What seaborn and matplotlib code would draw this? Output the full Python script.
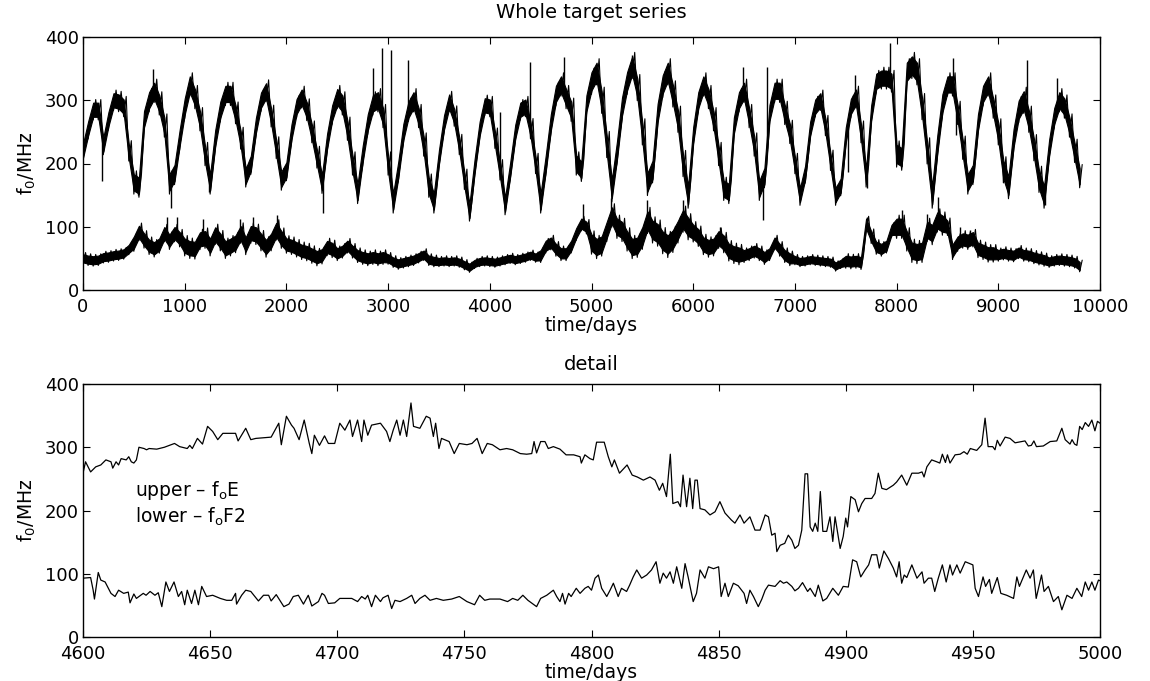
import numpy as np
import pandas as pd
import matplotlib
matplotlib.use("Agg")
import matplotlib.pyplot as plt
import seaborn as sns

# ---------------- data: whole series (sampled every 50 days) ----------------
STEP = 50
upper_mid = [
    220, 255, 285, 285, 230, 270, 300, 298, 290, 220,
    170, 165, 270, 300, 315, 295, 260, 170, 185, 240,
    290, 325, 305, 270, 215, 170, 240, 285, 310, 310,
    280, 240, 180, 200, 260, 300, 315, 275, 225, 175,
    190, 250, 290, 305, 285, 250, 210, 170, 235, 280,
    305, 295, 255, 200, 155, 215, 265, 295, 300, 275,
    200, 140, 190, 250, 285, 300, 275, 230, 165, 140,
    210, 265, 298, 275, 230, 175, 125, 195, 255, 292,
    290, 240, 190, 135, 190, 250, 285, 290, 255, 200,
    140, 200, 265, 310, 325, 305, 285, 200, 190, 295,
    330, 345, 300, 230, 160, 220, 290, 330, 355, 320,
    250, 170, 190, 280, 325, 345, 310, 270, 200, 150,
    245, 300, 325, 305, 270, 215, 160, 155, 260, 300,
    315, 275, 230, 160, 180, 280, 315, 315, 280, 250,
    200, 150, 185, 255, 290, 300, 260, 205, 150, 165,
    245, 290, 305, 250, 180, 280, 330, 335, 335, 330,
    215, 210, 345, 355, 345, 290, 220, 150, 230, 295,
    325, 325, 280, 225, 170, 185, 265, 310, 325, 290,
    250, 190, 165, 240, 285, 300, 270, 225, 175, 150,
    225, 275, 300, 290, 260, 220, 180,
]
lower_mid = [
    50, 48, 47, 48, 52, 53, 55, 56, 58, 65,
    75, 92, 80, 70, 66, 72, 90, 78, 90, 82,
    70, 66, 65, 80, 82, 70, 88, 78, 66, 70,
    75, 90, 72, 90, 88, 78, 68, 78, 95, 82,
    72, 70, 66, 62, 60, 56, 52, 55, 68, 65,
    58, 62, 70, 62, 55, 52, 50, 52, 50, 52,
    50, 45, 42, 44, 46, 48, 52, 56, 48, 46,
    45, 46, 45, 46, 44, 40, 36, 42, 45, 46,
    45, 44, 46, 48, 50, 48, 50, 52, 55, 52,
    55, 70, 75, 65, 58, 58, 70, 90, 105, 100,
    75, 68, 72, 95, 118, 100, 95, 80, 68, 70,
    85, 110, 95, 90, 78, 72, 80, 95, 112, 100,
    92, 85, 72, 68, 70, 82, 75, 62, 58, 56,
    55, 58, 62, 58, 52, 58, 75, 65, 55, 50,
    48, 45, 46, 48, 47, 46, 45, 44, 38, 42,
    46, 45, 46, 44, 105, 85, 68, 65, 70, 95,
    100, 100, 80, 62, 60, 62, 95, 90, 110, 105,
    100, 62, 75, 80, 78, 82, 65, 62, 58, 58,
    56, 58, 56, 55, 60, 56, 55, 52, 50, 48,
    45, 47, 48, 47, 46, 44, 38,
]
# spread (half thickness) of the noisy band, per 500-day block
upper_spread = [14, 16, 16, 15, 15, 16, 16, 14, 14, 16, 18, 18, 16, 16, 14, 15, 18, 16, 18, 16]
lower_spread = [8, 12, 14, 14, 12, 10, 8, 7, 7, 10, 16, 18, 14, 10, 7, 10, 16, 12, 9, 8]

# isolated spikes
upper_spike_days = [184, 540, 690, 865, 1240, 2360, 2695, 2852, 2937, 3025, 3196, 4100, 4395,
                    4730, 5400, 6490, 6683, 6722, 7522, 7590, 7710, 7935, 8557, 8585, 9279, 9459, 9574]
upper_spike_vals = [172, 150, 350, 130, 155, 122, 145, 351, 382, 379, 364, 281, 361,
                    369, 372, 353, 111, 353, 187, 340, 161, 390, 367, 245, 364, 134, 335]
lower_spike_days = [822, 920, 1180, 1545, 1670, 1905, 4915, 5190, 5545, 5900, 6265, 7705, 8050,
                    8300, 8410, 8620, 8720]
lower_spike_vals = [115, 115, 112, 112, 115, 118, 136, 145, 142, 142, 100, 115, 126,
                    120, 147, 100, 95]

# ---------------- data: detail 4600-5000 ----------------
det_up_days = [4600, 4601, 4603, 4605, 4607, 4609, 4611, 4611.7, 4613, 4614, 4615, 4617, 4618, 4619,
               4620, 4621, 4622, 4624, 4625, 4626, 4629, 4632, 4636, 4638, 4641, 4642, 4643, 4645,
               4647, 4649, 4651, 4653, 4655, 4660, 4661, 4664, 4666, 4668, 4671, 4674, 4677, 4678,
               4680, 4682, 4683, 4685, 4687, 4689, 4690, 4691, 4693, 4695, 4696.5, 4699, 4701, 4703,
               4705, 4706, 4708, 4709.6, 4710.5, 4712, 4713.5, 4717, 4719.4, 4720.7, 4722, 4723.4,
               4724.7, 4726, 4727.3, 4729, 4730, 4732.5, 4735, 4736.5, 4737.8, 4738.7, 4740, 4741,
               4744, 4746, 4748, 4751, 4753, 4755, 4757, 4759, 4761, 4764, 4766.6, 4769, 4772,
               4774.5, 4776.5, 4777.4, 4778.4, 4780, 4781.7, 4783, 4785, 4787.6, 4790, 4793, 4795.5,
               4796, 4797.4, 4799.4, 4800.7, 4802, 4805, 4806.6, 4808, 4809, 4811, 4814, 4816, 4818,
               4820.4, 4823, 4825, 4826.7, 4828, 4829.5, 4831, 4832, 4834, 4835, 4836, 4837.4,
               4838.7, 4839.8, 4840.7, 4841.6, 4842.7, 4844.6, 4846.6, 4848.6, 4850.5, 4852.5,
               4855, 4856.4, 4858.4, 4860, 4862.3, 4864.3, 4866.3, 4868.3, 4869.6, 4870.9, 4872.2,
               4872.9, 4874.2, 4876, 4877.4, 4878.8, 4880, 4881.4, 4882.7, 4884, 4885, 4886, 4887,
               4888, 4889, 4890, 4891, 4892.5, 4893.8, 4894.9, 4895.8, 4897.8, 4899, 4900, 4900.7,
               4902, 4903.7, 4905, 4906.3, 4907.6, 4910.2, 4911.5, 4912.8, 4914.2, 4916, 4918.7,
               4920, 4922, 4924, 4926, 4928.6, 4930, 4930.8, 4931.9, 4933.8, 4935.8, 4937, 4938,
               4939.2, 4940, 4941, 4943, 4945, 4946.5, 4947.8, 4949, 4951.5, 4953.5, 4954.8, 4956,
               4957.8, 4958.7, 4959.6, 4960.7, 4962.7, 4964.6, 4966.6, 4970.5, 4971.8, 4973, 4974,
               4975, 4977.7, 4980.4, 4983, 4985, 4986.3, 4988.2, 4989, 4990, 4990.9, 4992, 4993,
               4994.2, 4995.5, 4996.8, 4998, 4999, 5000]
det_up_vals = [259, 277, 261, 269, 272, 280, 277, 267, 277, 272, 282, 280, 285, 277,
               275, 280, 300, 298, 296, 298, 297, 300, 306, 301, 298, 303, 298, 314,
               305, 333, 325, 312, 322, 322, 310, 330, 312, 314, 315, 316, 338, 304,
               349, 335, 330, 312, 343, 306, 290, 319, 303, 318, 306, 306, 338, 327,
               343, 317, 343, 309, 343, 319, 335, 338, 325, 309, 327, 343,
               319, 343, 317, 370, 333, 330, 349, 346, 317, 338, 298, 314,
               309, 290, 306, 304, 306, 314, 290, 306, 304, 296, 298, 296, 290,
               289, 290, 309, 291, 309, 309, 298, 301, 297, 288, 288, 285,
               275, 288, 282, 280, 308, 308, 285, 269, 280, 259, 272, 256, 253,
               248, 253, 248, 232, 243, 222, 289, 211, 214, 206, 256, 206,
               251, 203, 248, 248, 203, 201, 193, 198, 214, 196,
               185, 180, 193, 180, 190, 169, 169, 193, 190, 161, 164,
               135, 145, 148, 161, 153, 140, 145, 169, 258, 258, 174, 167,
               180, 167, 230, 167, 167, 190, 151, 190, 140, 159, 188, 174,
               222, 217, 198, 211, 219, 219, 227, 259, 235, 233, 240,
               245, 256, 240, 259, 259, 261, 253, 269, 280, 277, 275, 289,
               276, 288, 275, 288, 289, 293, 289, 298, 295, 304, 346, 301,
               301, 296, 311, 302, 316, 314, 307, 310, 302, 303, 310,
               301, 302, 309, 310, 330, 312, 305, 312, 305, 303, 333, 328,
               339, 333, 343, 326, 341, 338]

det_lo_days = [4600, 4603, 4604, 4604.5, 4606, 4607, 4608.7, 4611, 4612.6, 4614, 4616, 4617.8,
               4618.5, 4620, 4621, 4623.7, 4624.8, 4626.4, 4628.3, 4629.6, 4631, 4632.6, 4634,
               4635.8, 4637.5, 4638.8, 4640, 4641, 4642.7, 4644, 4645.4, 4646.7, 4648.6, 4651,
               4654, 4656.5, 4658.5, 4660, 4660.4, 4662.4, 4664, 4666, 4669, 4671, 4673, 4674,
               4676, 4679, 4681, 4682.7, 4684.7, 4686.7, 4688.6, 4690, 4692.6, 4694, 4695, 4696.5,
               4699, 4701, 4705.7, 4708, 4709.6, 4711, 4712, 4713.5, 4715, 4717, 4718, 4720,
               4721.4, 4722.7, 4724.7, 4727.3, 4729.3, 4730.6, 4732.5, 4734.5, 4736.5, 4739,
               4741.7, 4745, 4748, 4751, 4754, 4756, 4758, 4760, 4764, 4767, 4769, 4771, 4773,
               4775, 4778.4, 4780, 4782.4, 4785, 4786.3, 4787.6, 4788.6, 4789.6, 4791, 4792, 4794,
               4795.5, 4797.4, 4798.7, 4800, 4801.4, 4802.7, 4804, 4806, 4807.3, 4808.6, 4810.5,
               4811.8, 4813.8, 4815, 4816.4, 4817.8, 4819.7, 4821.7, 4823.6, 4825.4, 4826.9,
               4828.2, 4829.5, 4830.9, 4832.2, 4833.5, 4835.5, 4836.8, 4838, 4840, 4841.3, 4842.7,
               4844.6, 4846, 4848, 4850, 4851, 4852.5, 4853.8, 4855.8, 4857.7, 4860, 4861, 4862.3,
               4863.7, 4865.6, 4867, 4868.3, 4869.6, 4872.2, 4874.2, 4875.5, 4876.8, 4878.8, 4880,
               4881.4, 4883, 4885, 4886, 4888, 4889.2, 4891, 4892.5, 4894.9, 4897.1, 4899, 4901,
               4902.7, 4904.3, 4905.9, 4907.6, 4909, 4910.2, 4912.2, 4913.2, 4915, 4916.8, 4918.7,
               4920, 4921, 4922, 4923, 4924, 4926, 4928, 4930, 4930.8, 4932.5, 4933.8, 4935,
               4936.4, 4938, 4939.5, 4941, 4942, 4943.7, 4945, 4947, 4950, 4950.9, 4952.2, 4954,
               4955, 4956.5, 4957.4, 4959.6, 4961, 4963.3, 4966, 4967.3, 4968.3, 4971, 4972.5,
               4973.8, 4974.9, 4977, 4978, 4979.7, 4981.7, 4983.6, 4985, 4987, 4989, 4990.9,
               4992.8, 4994.2, 4995.5, 4996.8, 4998, 4999.4, 5000]
det_lo_vals = [93, 94, 74, 60, 102, 90, 87, 69, 64, 74, 69, 71,
               54, 68, 61, 69, 66, 72, 66, 70, 48, 87, 72,
               87, 64, 72, 51, 74, 53, 74, 51, 80, 64, 66,
               61, 58, 58, 69, 52, 66, 74, 72, 57, 66, 66, 57,
               67, 48, 52, 64, 66, 52, 66, 49, 56, 69, 66, 53,
               54, 61, 61, 56, 64, 60, 66, 48, 66, 56, 62, 66,
               45, 58, 56, 61, 66, 53, 61, 66, 58, 61,
               58, 60, 64, 56, 51, 66, 58, 60, 60, 56, 61, 58, 66,
               58, 48, 61, 66, 74, 64, 56, 69, 52, 69, 64, 77,
               69, 77, 80, 74, 93, 98, 77, 64, 74, 85, 64,
               77, 72, 82, 95, 106, 93, 98, 106, 119, 85,
               101, 93, 103, 85, 111, 77, 116, 95, 56, 69, 106,
               93, 111, 108, 111, 64, 85, 64, 85, 81, 69, 53, 74,
               64, 48, 60, 74, 82, 80, 89, 85, 87, 80, 73,
               77, 86, 72, 77, 64, 82, 57, 61, 77, 66, 80, 79,
               122, 119, 95, 106, 114, 130, 130, 109, 136, 124, 109,
               95, 119, 85, 98, 94, 114, 93, 103, 85, 93, 93, 72,
               93, 114, 87, 114, 98, 114, 101, 119, 114, 77, 64, 95,
               80, 91, 69, 94, 69, 66, 61, 95, 80, 106, 93,
               106, 61, 98, 72, 80, 56, 64, 43, 66, 61, 77,
               64, 87, 74, 87, 74, 90, 89]

x_ticks_top = [0, 1000, 2000, 3000, 4000, 5000, 6000, 7000, 8000, 9000, 10000]
x_ticks_bottom = [4600, 4650, 4700, 4750, 4800, 4850, 4900, 4950, 5000]
y_ticks = [0, 100, 200, 300, 400]

# ---------------- styling ----------------
sns.set_theme(style="white")
plt.rcParams['font.family'] = ['DejaVu Sans']
plt.rcParams['mathtext.default'] = 'regular'
plt.rcParams['axes.edgecolor'] = 'black'
plt.rcParams['axes.linewidth'] = 1.0
plt.rcParams['text.color'] = 'black'
plt.rcParams['axes.labelcolor'] = 'black'
plt.rcParams['xtick.color'] = 'black'
plt.rcParams['ytick.color'] = 'black'
FS = 13.5
TFS = 13

fig = plt.figure(figsize=(11.5, 6.81), dpi=100)
ax1 = fig.add_axes([83/1150, 1 - 290/681, 1017/1150, 253/681])
ax2 = fig.add_axes([83/1150, 1 - 637/681, 1017/1150, 253/681])


def band(ax, mid, spread):
    mid = np.asarray(mid, dtype=float)
    n = len(mid)
    days = np.arange(n) * STEP
    sp = np.repeat(np.asarray(spread, dtype=float), 10)[:n]
    ax.fill_between(days, mid - 0.8 * sp, mid + 0.8 * sp, color='black', lw=0.8)
    zx = np.column_stack([days, days + STEP / 2]).ravel()
    zy = np.column_stack([mid - 1.15 * sp, mid + 1.15 * sp]).ravel()
    df = pd.DataFrame({"day": zx, "f": zy})
    sns.lineplot(data=df, x="day", y="f", ax=ax, color='black', lw=0.8,
                 estimator=None, sort=False)
    return days, mid


d_u, m_u = band(ax1, upper_mid, upper_spread)
d_l, m_l = band(ax1, lower_mid, lower_spread)
ax1.vlines(upper_spike_days, np.interp(upper_spike_days, d_u, m_u), upper_spike_vals,
           color='black', lw=1.0)
ax1.vlines(lower_spike_days, np.interp(lower_spike_days, d_l, m_l), lower_spike_vals,
           color='black', lw=1.0)

sns.lineplot(x=det_up_days, y=det_up_vals, ax=ax2, color='black', lw=0.9,
             estimator=None, sort=False)
sns.lineplot(x=det_lo_days, y=det_lo_vals, ax=ax2, color='black', lw=0.9,
             estimator=None, sort=False)

for ax, xt, xl in [(ax1, x_ticks_top, (0, 10000)), (ax2, x_ticks_bottom, (4600, 5000))]:
    ax.set_xlim(*xl)
    ax.set_ylim(0, 400)
    ax.set_xticks(xt)
    ax.set_yticks(y_ticks)
    ax.tick_params(direction='in', length=5, width=0.8, top=True, right=True,
                   bottom=True, left=True, labelsize=TFS, colors='black')
    ax.tick_params(axis='x', pad=5.5)
    ax.tick_params(axis='y', pad=3)
    for lbl in ax.get_yticklabels():
        lbl.set_verticalalignment('center_baseline')
    for s in ax.spines.values():
        s.set_visible(True)
        s.set_color('black')
        s.set_linewidth(1.0)
    ax.set_xlabel('time/days', fontsize=FS, labelpad=0.5)
    ax.set_ylabel('f$_0$/MHz', fontsize=FS, labelpad=5)
    ax.grid(False)

ax1.set_title('Whole target series', fontsize=14, pad=14, color='black')
ax2.set_title('detail', fontsize=14, pad=10, color='black')
ax2.text(4620.5, 231, 'upper – f$_o$E', fontsize=FS, va='center', ha='left')
ax2.text(4620.5, 190, 'lower – f$_o$F2', fontsize=FS, va='center', ha='left')

fig.savefig('out.png', dpi=100, facecolor='white')
